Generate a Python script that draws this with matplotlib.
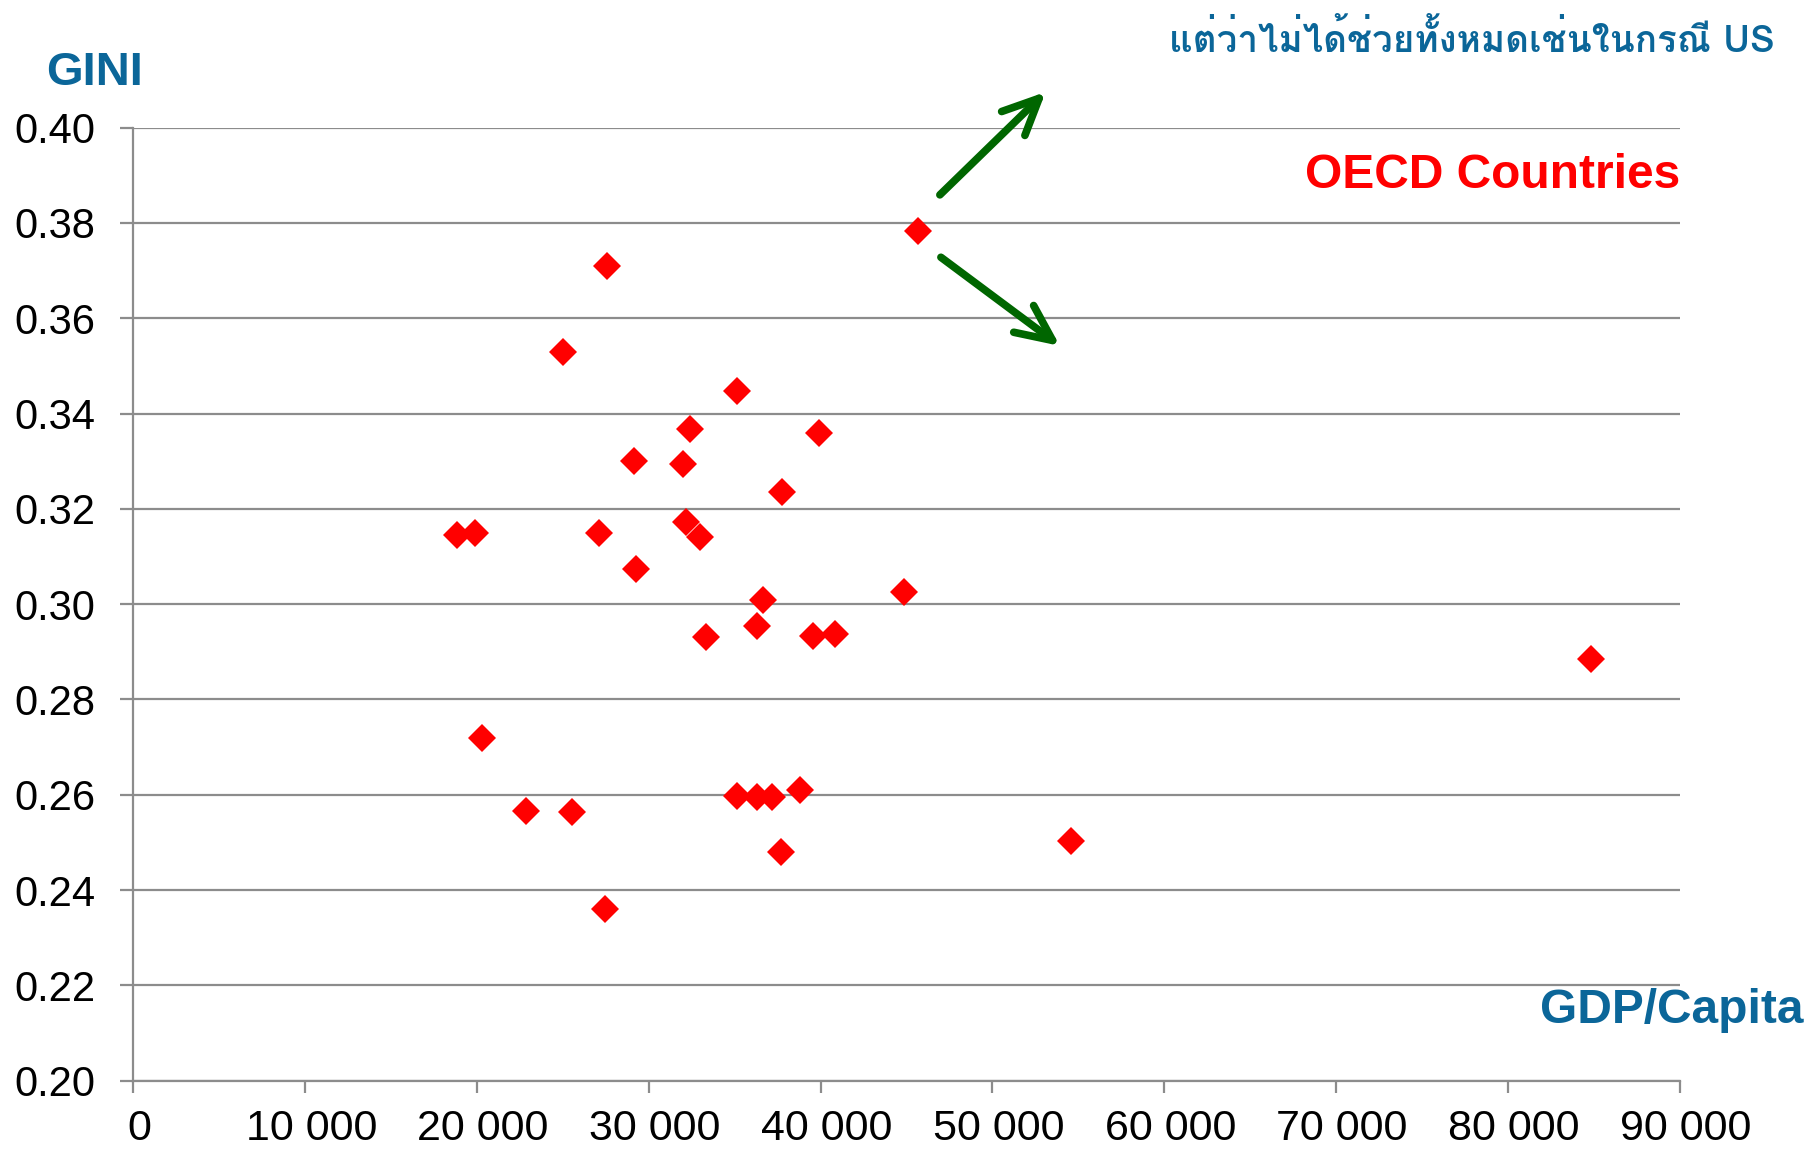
import matplotlib
matplotlib.use("Agg")
import matplotlib.pyplot as plt
from matplotlib import font_manager
from matplotlib.ft2font import FT2Font
from matplotlib.ticker import FuncFormatter, MultipleLocator
from matplotlib.transforms import ScaledTranslation

# GDP per capita (USD) and GINI for OECD countries
gdp = [18850, 19870, 20270, 22840, 25000, 25540, 27100, 27570, 27430, 29120,
       29260, 31960, 32370, 32160, 32970, 33310, 35140, 35140, 36280, 36620,
       36280, 37160, 37700, 37770, 38780, 39530, 39930, 40810, 44870, 45680,
       54600, 84870]
gini = [0.3145, 0.315, 0.272, 0.2565, 0.353, 0.2563, 0.315, 0.371, 0.236, 0.330,
        0.3074, 0.3294, 0.3367, 0.3172, 0.314, 0.2931, 0.3447, 0.2597, 0.2955, 0.3009,
        0.2595, 0.2595, 0.248, 0.3235, 0.2609, 0.2933, 0.3359, 0.2938, 0.3026, 0.3783,
        0.2502, 0.2884]

blue = "#0b6699"
grey = "#8c8c8c"

# find a font that can draw Thai
thai_family = "DejaVu Sans"
for f in font_manager.fontManager.ttflist:
    try:
        if ord("ก") in FT2Font(f.fname).get_charmap():
            thai_family = f.name
            if f.weight in ("bold", 700):
                break
    except Exception:
        pass

plt.rcParams["font.family"] = ["Liberation Sans", "DejaVu Sans"]

fig = plt.figure(figsize=(18.2, 11.51), dpi=100)
ax = fig.add_axes([0.07335, 0.06117, 0.8495, 0.8279])

ax.plot(gdp, gini, "D", color="red", ms=14.5, mew=0, zorder=3, clip_on=False)

ax.set_xlim(0, 90000)
ax.set_ylim(0.20, 0.40)
ax.xaxis.set_major_locator(MultipleLocator(10000))
ax.yaxis.set_major_locator(MultipleLocator(0.02))
ax.xaxis.set_major_formatter(FuncFormatter(lambda v, p: f"{int(round(v)):,}".replace(",", " ")))
ax.yaxis.set_major_formatter(FuncFormatter(lambda v, p: f"{v:.2f}"))

ax.grid(axis="y", color=grey, lw=1.6)
ax.set_axisbelow(True)
for s in ["top", "right"]:
    ax.spines[s].set_visible(False)
for s in ["left", "bottom"]:
    ax.spines[s].set_color(grey)
    ax.spines[s].set_linewidth(1.6)

ax.tick_params(axis="x", direction="out", length=8.6, width=1.6, color=grey, pad=12, labelsize=31)
ax.tick_params(axis="y", direction="out", length=9.4, width=1.6, color=grey, pad=18, labelsize=30)
# x labels sit a little right of their ticks in the original
shift = ScaledTranslation(0.06, 0, fig.dpi_scale_trans)
for lab in ax.get_xticklabels():
    lab.set_transform(lab.get_transform() + shift)

fig.text(46 / 1820, 1 - 85 / 1151, "GINI", color=blue, fontsize=34, fontweight="bold",
         ha="left", va="baseline")
fig.text(1803 / 1820, 1 - 1023 / 1151, "GDP/Capita", color=blue, fontsize=34.5, fontweight="bold",
         ha="right", va="baseline")
fig.text(1680 / 1820, 1 - 188 / 1151, "OECD Countries", color="red", fontsize=34.5, fontweight="bold",
         ha="right", va="baseline")
fig.text(1775 / 1820, 1 - 52 / 1151, "แต่ว่าไม่ได้ช่วยทั้งหมดเช่นในกรณี US", color=blue,
         fontsize=26.5, fontweight="bold", family=[thai_family, "DejaVu Sans"],
         ha="right", va="baseline")

# green arrows around the US point
arrow = dict(arrowstyle="->,head_length=1.3,head_width=0.6", color="#006600", lw=5.5,
             mutation_scale=20, shrinkA=0, shrinkB=0)
ax.annotate("", xy=(53100, 0.4075), xytext=(46940, 0.3859), arrowprops=arrow, annotation_clip=False)
ax.annotate("", xy=(53930, 0.3542), xytext=(47000, 0.3728), arrowprops=arrow, annotation_clip=False)

fig.savefig("out.png", dpi=100)
